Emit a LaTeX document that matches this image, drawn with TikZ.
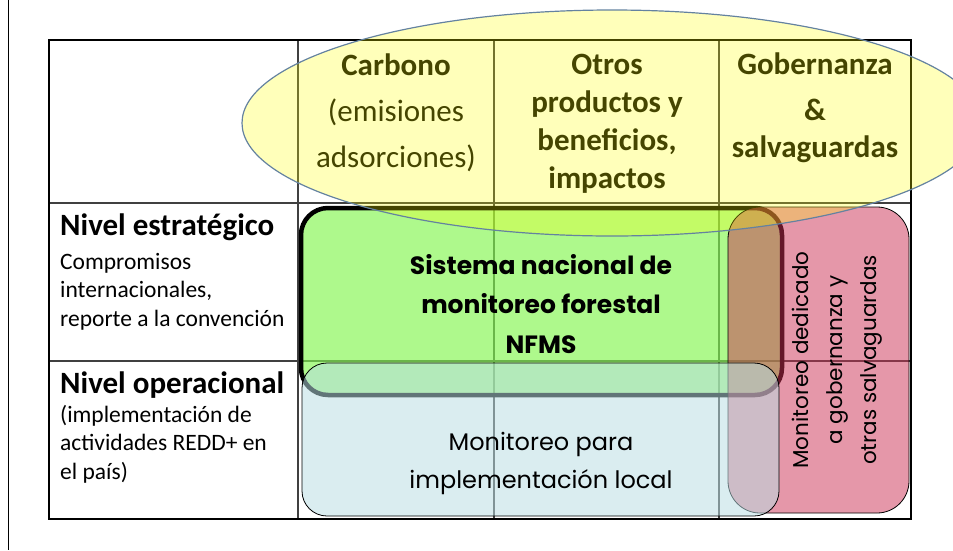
\documentclass[tikz,border=0pt]{standalone}
\usepackage{fontspec}
\setmainfont{Carlito}
\newfontfamily\geofont{Poppins}
\usepackage{tikz}
\usetikzlibrary{calc}
\definecolor{hdryellow}{RGB}{255,255,0}
\definecolor{nfmsgreen}{RGB}{130,246,78}
\definecolor{localblue}{RGB}{185,221,227}
\definecolor{govpink}{RGB}{203,47,83}
\definecolor{ellline}{RGB}{100,130,160}
\definecolor{gridgray}{RGB}{64,64,64}
\tikzset{
  hdrtext/.style={inner sep=0pt, align=center},
  lvltitle/.style={inner sep=0pt, anchor=base west, font=\bfseries\fontsize{31}{38}\selectfont},
  lvldesc/.style={inner sep=0pt, anchor=north west, align=left, font=\fontsize{23.5}{28.5}\selectfont},
  boxtext/.style={inner sep=0pt, align=center},
}

\begin{document}
\begin{tikzpicture}[x=1pt,y=-1pt]
    \clip(0,0)rectangle(953,550);
    \draw[line width=0.8pt](8,0)--(8,550);
    \draw[gridgray,line width=1.3pt](298,40)--(298,519) (494,40)--(494,519) (719,40)--(719,519);
    \draw[gridgray,line width=1.3pt](49,203)--(911,203) (49,361)--(911,361);
    \draw[line width=2.5pt](49,40)rectangle(911,519);
    \node[hdrtext,font=\fontsize{31}{46}\selectfont](carbono) at (396,113)
      {\textbf{Carbono}\\(emisiones\\adsorciones)};
    \node[hdrtext,font=\bfseries\fontsize{31}{38}\selectfont](otros) at (607,123.5)
      {Otros\\productos y\\beneficios,\\impactos};
    \node[hdrtext,font=\bfseries\fontsize{31}{37}\selectfont](gobern) at (815,108)
      {Gobernanza\\[9pt]\&\\salvaguardas};
    \node[lvltitle](estrat) at (60,235){Nivel estratégico};
    \node[lvldesc](estratdesc) at (60,253){Compromisos\\internacionales,\\reporte a la convención};
    \node[lvltitle](operac) at (60,393){Nivel operacional};
    \node[lvldesc](operacdesc) at (60,405){(implementación de\\actividades REDD+ en\\el país)};
    \draw[line width=4.5pt,fill=nfmsgreen,fill opacity=0.65,rounded corners=27pt](301,208)rectangle(782,395);
    \draw[line width=0.8pt,fill=govpink,fill opacity=0.5,rounded corners=32pt](728,207)rectangle(909,513);
    \draw[line width=0.8pt,fill=localblue,fill opacity=0.53,rounded corners=25pt](302,363)rectangle(779,516);
    \node[boxtext,font=\geofont\bfseries\fontsize{25}{39.5}\selectfont](nfms) at (541,304)
      {Sistema nacional de\\monitoreo forestal\\NFMS};
    \node[boxtext,font=\geofont\fontsize{24}{38}\selectfont](local) at (541,463)
      {Monitoreo para\\implementación local};
    \node[boxtext,rotate=90,font=\geofont\fontsize{21.5}{34}\selectfont](salvag) at (837,360)
      {Monitoreo dedicado\\a gobernanza y\\otras salvaguardas};
    \draw[ellline,line width=1.2pt,fill=hdryellow,fill opacity=0.27](612,123)ellipse[x radius=370pt,y radius=113pt];
\end{tikzpicture}
\end{document}
